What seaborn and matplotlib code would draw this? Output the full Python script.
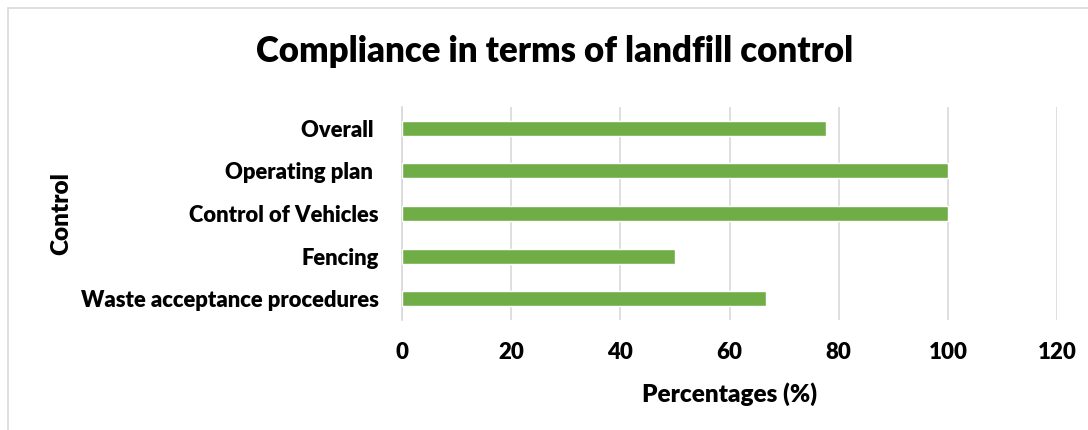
import matplotlib
matplotlib.use("Agg")
import matplotlib.pyplot as plt
import seaborn as sns
import pandas as pd
from matplotlib.patches import Rectangle

categories = ["Overall ", "Operating plan ", "Control of Vehicles", "Fencing", "Waste acceptance procedures"]
values = [77.6, 100, 100, 50, 66.7]
xticks = [0, 20, 40, 60, 80, 100, 120]

sns.set_theme(style="white")
plt.rcParams['font.family'] = ['Lato', 'DejaVu Sans']
plt.rcParams['text.color'] = 'black'
plt.rcParams['axes.labelcolor'] = 'black'
plt.rcParams['xtick.color'] = 'black'
plt.rcParams['ytick.color'] = 'black'

df = pd.DataFrame({"Control": categories, "Percentages (%)": values})

fig = plt.figure(figsize=(10.88, 4.30), dpi=100)
ax = fig.add_axes([402/1088, 110/430, 655/1088, 213/430])

sns.barplot(data=df, y="Control", x="Percentages (%)", orient="h", color="#70AD47",
            width=0.35, saturation=1, ax=ax, zorder=3)

ax.set_xlim(0, 120)
ax.set_xticks(xticks)
ax.set_xticklabels([str(t) for t in xticks], fontsize=16, fontweight="heavy")
ax.set_ylim(4.5, -0.5)
for lab in ax.get_yticklabels():
    lab.set_fontsize(15.8)
    lab.set_fontweight("heavy")
ax.tick_params(axis="both", length=0)
ax.tick_params(axis="x", pad=16)
ax.tick_params(axis="y", pad=17)
ax.grid(axis="x", color="#d9d9d9", linewidth=1.2, zorder=0)
for s in ["top", "right", "bottom"]:
    ax.spines[s].set_visible(False)
ax.spines["left"].set_color("#d9d9d9")
ax.spines["left"].set_linewidth(1.2)

ax.set_xlabel("Percentages (%)", fontsize=17.5, fontweight="heavy", labelpad=14)
ax.set_ylabel("Control", fontsize=17.5, fontweight="heavy")
ax.yaxis.set_label_coords(-330/655, 0.5)

fig.suptitle("Compliance in terms of landfill control", x=555/1088, y=1 - 52/430,
             va="center", fontsize=25, fontweight="heavy")

fig.patches.append(Rectangle((8/1088, -0.05), 1.1, 1 - 8/430 + 0.05, transform=fig.transFigure,
                             fill=False, edgecolor="#d9d9d9", linewidth=1.2))

fig.savefig("out.png", dpi=100)
